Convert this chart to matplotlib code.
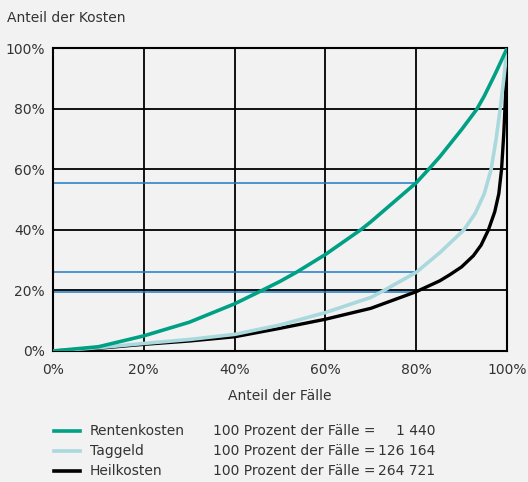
import matplotlib.pyplot as plt

# Lorenz-type curves: share of cases (x) vs share of costs (y), in percent
faelle_renten = [0, 10, 20, 30, 40, 45.6, 50, 53.7, 60, 68, 70, 80, 82.7, 85.2, 90, 93.3, 95, 97.4, 100]
renten = [0, 1.4, 5.0, 9.5, 15.6, 19.7, 23.0, 26.1, 31.9, 40.3, 42.7, 55.6, 60, 64.2, 73.2, 79.8, 84.3, 91.6, 100]

faelle_taggeld = [0, 10, 20, 30, 40, 50, 60, 70, 72.4, 80, 85.2, 90.5, 93, 95, 96.5, 97.6, 98.5, 99.3, 100]
taggeld = [0, 1.1, 2.5, 3.8, 5.5, 8.6, 12.7, 17.7, 19.6, 26, 32.5, 40, 45.5, 52, 60, 70, 80, 90, 100]

faelle_heil = [0, 10, 20, 30, 40, 50, 60, 70, 80, 85.2, 87.4, 90, 92.6, 94.3, 95.9, 97.3, 98.2, 98.8, 99.3, 99.7, 100]
heil = [0, 0.9, 2.2, 3.3, 4.7, 7.5, 10.5, 14.1, 19.6, 23.2, 25.2, 27.8, 31.5, 35, 40, 46, 52, 60, 72, 85, 100]

# reference lines at 80 % of cases
ref_levels = [55.6, 26, 19.5]

legend_names = ['Rentenkosten', 'Taggeld', 'Heilkosten']
legend_counts = ['1 440', '126 164', '264 721']

bg = '#f2f2f2'
teal = '#00a085'
light = '#a9d9dd'
txt = '#333333'

fig = plt.figure(figsize=(5.28, 4.82), dpi=100, facecolor=bg)
ax = fig.add_axes([0.1004, 0.2718, 0.8598, 0.6276])
ax.set_facecolor(bg)

for v in [20, 40, 60, 80]:
    ax.axvline(v, color='black', lw=1.3, zorder=1)
    ax.axhline(v, color='black', lw=1.3, zorder=1)

for lv in ref_levels:
    ax.plot([0, 80], [lv, lv], color='#1f7ac4', lw=1.1, zorder=2)

kw = dict(solid_joinstyle='round', solid_capstyle='round')
ax.plot(faelle_heil, heil, color='black', lw=2.4, zorder=3, **kw)
ax.plot(faelle_taggeld, taggeld, color=light, lw=2.6, zorder=4, **kw)
ax.plot(faelle_renten, renten, color=teal, lw=2.6, zorder=5, **kw)

ax.set_xlim(0, 100)
ax.set_ylim(0, 100)
for s in ax.spines.values():
    s.set_color('black')
    s.set_linewidth(1.5)
ticks = [0, 20, 40, 60, 80, 100]
ax.set_xticks(ticks)
ax.set_yticks(ticks)
ax.set_xticklabels([f'{t}%' for t in ticks])
ax.set_yticklabels([f'{t}%' for t in ticks])
ax.tick_params(axis='y', length=0, labelsize=10, colors=txt, pad=6)
ax.tick_params(axis='x', length=0, labelsize=10, colors=txt, pad=9)

fig.text(7 / 528, 1 - 18 / 482, 'Anteil der Kosten', fontsize=10, color=txt, va='center')
fig.text(280 / 528, 1 - 396 / 482, 'Anteil der Fälle', fontsize=10, color=txt, va='center', ha='center')

colors = [teal, light, 'black']
for i, (name, cnt) in enumerate(zip(legend_names, legend_counts)):
    y = 1 - (431 + 20 * i) / 482
    fig.add_artist(plt.Line2D([54 / 528, 80 / 528], [y, y], color=colors[i], lw=2.6,
                              transform=fig.transFigure))
    fig.text(90 / 528, y, name, fontsize=10, color=txt, va='center')
    fig.text(213 / 528, y, '100 Prozent der Fälle =', fontsize=10, color=txt, va='center')
    fig.text(435 / 528, y, cnt, fontsize=10, color=txt, va='center', ha='right')

fig.savefig('out.png', dpi=100, facecolor=bg)
